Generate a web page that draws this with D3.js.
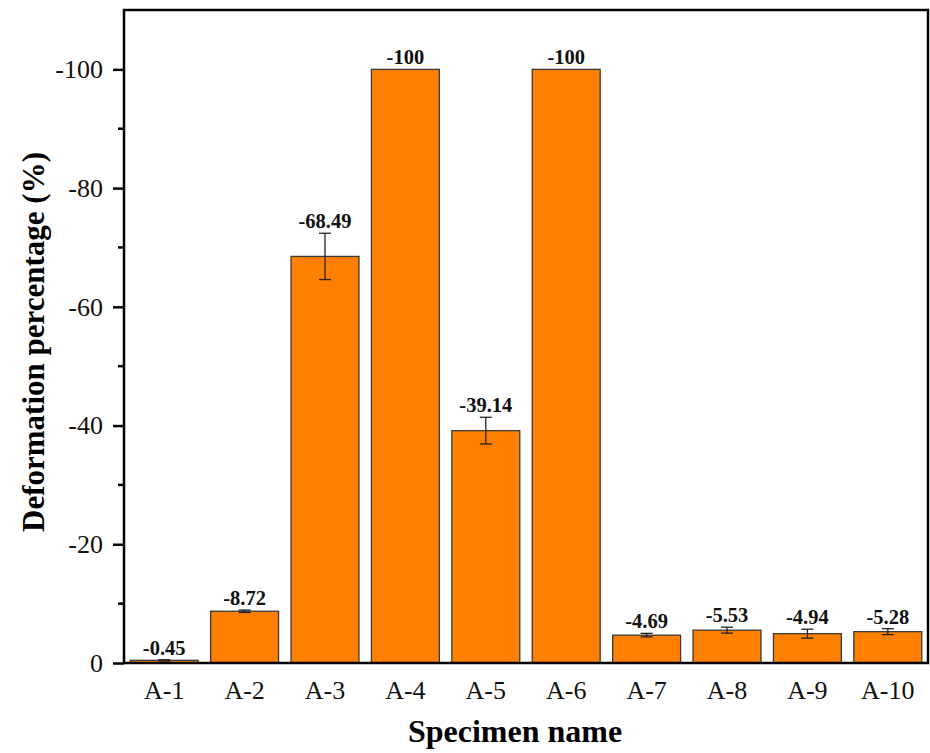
<!DOCTYPE html>
<html lang="en">
<head>
    <meta charset="UTF-8">
    <title>Deformation percentage</title>
    <script src="https://d3js.org/d3.v7.min.js"></script>
    <style>
        body { margin: 0; background: #fff; }
        svg text { font-family: "Liberation Serif", "Times New Roman", serif; }
    </style>
</head>
<body>
    <div id="chart"></div>

    <script>
        // data (values are deformation, shown as negatives)
        const specimens = ["A-1", "A-2", "A-3", "A-4", "A-5", "A-6", "A-7", "A-8", "A-9", "A-10"];
        const deformation = [0.45, 8.72, 68.49, 100, 39.14, 100, 4.69, 5.53, 4.94, 5.28];
        const errors = [0.1, 0.2, 3.9, 0, 2.25, 0, 0.3, 0.5, 0.75, 0.5];
        const yTicks = [0, 20, 40, 60, 80, 100];

        const width = 930, height = 753;
        const margin = { top: 10, right: 2, bottom: 90, left: 124 };

        const svg = d3.select("#chart")
            .append("svg")
            .attr("width", width)
            .attr("height", height);

        const x = d3.scaleBand()
            .domain(specimens)
            .range([margin.left, width - margin.right])
            .paddingInner(0.155)
            .paddingOuter(0.0775);

        const y = d3.scaleLinear()
            .domain([0, 110])
            .range([height - margin.bottom, margin.top]);

        const data = specimens.map((s, i) => ({ name: s, value: deformation[i], err: errors[i] }));

        // bars
        svg.selectAll(".bar")
            .data(data)
            .enter()
            .append("rect")
            .attr("class", "bar")
            .attr("x", d => x(d.name))
            .attr("y", d => y(d.value))
            .attr("width", x.bandwidth())
            .attr("height", d => y(0) - y(d.value))
            .attr("fill", "#ff8000")
            .attr("stroke", "#3a3a3a")
            .attr("stroke-width", 1.3);

        // error bars
        const eb = svg.selectAll(".err")
            .data(data.filter(d => d.err > 0))
            .enter()
            .append("g")
            .attr("class", "err")
            .attr("stroke", "#222")
            .attr("stroke-width", 1.3);

        eb.append("line")
            .attr("x1", d => x(d.name) + x.bandwidth() / 2)
            .attr("x2", d => x(d.name) + x.bandwidth() / 2)
            .attr("y1", d => y(d.value + d.err))
            .attr("y2", d => y(d.value - d.err));

        eb.append("line")
            .attr("x1", d => x(d.name) + x.bandwidth() / 2 - 6)
            .attr("x2", d => x(d.name) + x.bandwidth() / 2 + 6)
            .attr("y1", d => y(d.value + d.err))
            .attr("y2", d => y(d.value + d.err));

        eb.append("line")
            .attr("x1", d => x(d.name) + x.bandwidth() / 2 - 6)
            .attr("x2", d => x(d.name) + x.bandwidth() / 2 + 6)
            .attr("y1", d => y(d.value - d.err))
            .attr("y2", d => y(d.value - d.err));

        // value labels
        svg.selectAll(".vlabel")
            .data(data)
            .enter()
            .append("text")
            .attr("class", "vlabel")
            .attr("x", d => x(d.name) + x.bandwidth() / 2)
            .attr("y", d => y(d.value + d.err) - 5)
            .attr("text-anchor", "middle")
            .attr("font-size", "20.5px")
            .attr("font-weight", "bold")
            .attr("fill", "#111")
            .text(d => "-" + d.value);

        // y axis
        const yAxis = d3.axisLeft(y)
            .tickValues(yTicks)
            .tickSize(11)
            .tickPadding(10)
            .tickFormat(d => d === 0 ? "0" : "-" + d);

        const gy = svg.append("g")
            .attr("transform", `translate(${margin.left},0)`)
            .call(yAxis);
        gy.select(".domain").remove();
        gy.selectAll(".tick line").attr("stroke", "#000").attr("stroke-width", 2.5);
        gy.selectAll(".tick text")
            .attr("font-size", "26px")
            .attr("fill", "#111")
            .style("font-family", "'Liberation Serif', serif");

        // minor ticks
        svg.append("g")
            .selectAll("line")
            .data([10, 30, 50, 70, 90])
            .enter()
            .append("line")
            .attr("x1", margin.left - 6)
            .attr("x2", margin.left)
            .attr("y1", d => y(d))
            .attr("y2", d => y(d))
            .attr("stroke", "#000")
            .attr("stroke-width", 2.5);

        // x axis labels
        const xAxis = d3.axisBottom(x).tickSize(0).tickPadding(18);
        const gx = svg.append("g")
            .attr("transform", `translate(0,${y(0)})`)
            .call(xAxis);
        gx.select(".domain").remove();
        gx.selectAll(".tick text")
            .attr("font-size", "26px")
            .attr("fill", "#111")
            .style("font-family", "'Liberation Serif', serif");

        // frame
        svg.append("rect")
            .attr("x", margin.left)
            .attr("y", margin.top)
            .attr("width", width - margin.left - margin.right)
            .attr("height", y(0) - margin.top)
            .attr("fill", "none")
            .attr("stroke", "#000")
            .attr("stroke-width", 2.5);

        // axis titles
        svg.append("text")
            .attr("x", 515)
            .attr("y", 742)
            .attr("text-anchor", "middle")
            .attr("font-size", "32px")
            .attr("font-weight", "bold")
            .attr("fill", "#000")
            .text("Specimen name");

        svg.append("text")
            .attr("transform", `translate(44,342) rotate(-90)`)
            .attr("text-anchor", "middle")
            .attr("font-size", "31px")
            .attr("font-weight", "bold")
            .attr("fill", "#000")
            .text("Deformation percentage (%)");
    </script>
</body>
</html>
